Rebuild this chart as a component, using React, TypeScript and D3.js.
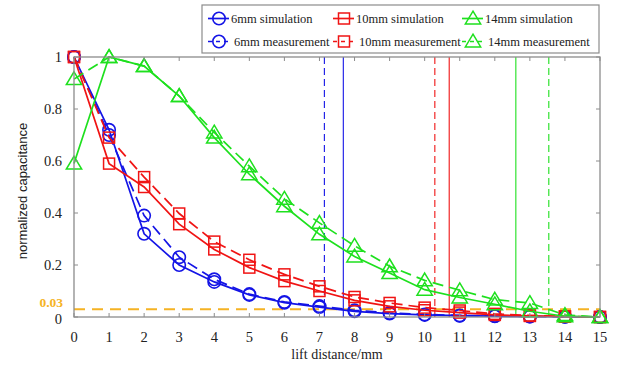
import * as d3 from 'd3';

// lift distance (mm)
const distances = d3.range(0, 16);

const sim6 = [1, 0.72, 0.32, 0.2, 0.135, 0.085, 0.055, 0.038, 0.022, 0.013, 0.008, 0.005, 0.003, 0.002, 0.001, 0];
const meas6 = [1, 0.7, 0.39, 0.23, 0.145, 0.088, 0.058, 0.042, 0.026, 0.016, 0.01, 0.006, 0.004, 0.002, 0.001, 0];
const sim10 = [1, 0.59, 0.5, 0.357, 0.26, 0.19, 0.138, 0.1, 0.064, 0.041, 0.026, 0.017, 0.008, 0.004, 0.002, 0];
const meas10 = [1, 0.69, 0.538, 0.398, 0.29, 0.22, 0.164, 0.118, 0.077, 0.054, 0.036, 0.025, 0.012, 0.006, 0.002, 0];
const sim14 = [0.59, 1, 0.965, 0.85, 0.69, 0.549, 0.426, 0.318, 0.233, 0.169, 0.105, 0.075, 0.049, 0.022, 0.003, 0];
const meas14 = [0.915, 1, 0.965, 0.85, 0.71, 0.58, 0.455, 0.362, 0.274, 0.195, 0.141, 0.103, 0.067, 0.054, 0.008, 0];

// distance where each curve drops below the 0.03 threshold
const cutoffs = [7.14, 7.68, 10.29, 10.7, 12.6, 13.54];
const cutoffDashed = [true, false, true, false, false, true];
const cutoffColors = ['#1414e6', '#1414e6', '#f01414', '#f01414', '#1ee01e', '#1ee01e'];

const threshold = 0.03;
const xTicks = d3.range(0, 16);
const yTicks = [0, 0.2, 0.4, 0.6, 0.8, 1];

type Marker = 'circle' | 'square' | 'triangle';

const series: { name: string; values: number[]; color: string; dashed: boolean; marker: Marker }[] = [
    { name: '6mm simulation', values: sim6, color: '#1414e6', dashed: false, marker: 'circle' },
    { name: '6mm measurement', values: meas6, color: '#1414e6', dashed: true, marker: 'circle' },
    { name: '10mm simulation', values: sim10, color: '#f01414', dashed: false, marker: 'square' },
    { name: '10mm measurement', values: meas10, color: '#f01414', dashed: true, marker: 'square' },
    { name: '14mm simulation', values: sim14, color: '#1ee01e', dashed: false, marker: 'triangle' },
    { name: '14mm measurement', values: meas14, color: '#1ee01e', dashed: true, marker: 'triangle' },
];

const W = 621;
const H = 369;
const serif = { fontFamily: "'Liberation Serif', 'DejaVu Serif', 'Times New Roman', serif" };
const sans = { fontFamily: "'Liberation Sans', Arial, sans-serif" };
const axisColor = '#8c8c8c';
const orange = '#f5b324';

function MarkerShape({ kind, x, y, color }: { kind: Marker; x: number; y: number; color: string }) {
    if (kind === 'circle') {
        return <circle cx={x} cy={y} r={6.2} fill="none" stroke={color} strokeWidth={1.6} />;
    }
    if (kind === 'square') {
        return <rect x={x - 5.5} y={y - 5.5} width={11} height={11} fill="none" stroke={color} strokeWidth={1.5} />;
    }
    const s = 7.3;
    const path = `M${x},${y - s} L${x + s * 1.05},${y + s * 0.75} L${x - s * 1.05},${y + s * 0.75} Z`;
    return <path d={path} fill="none" stroke={color} strokeWidth={1.5} />;
}

export default function App() {
    const margin = { left: 74, right: 21, top: 57, bottom: 52 };
    const x = d3.scaleLinear().domain([0, 15]).range([margin.left, W - margin.right]);
    const y = d3.scaleLinear().domain([0, 1]).range([H - margin.bottom, margin.top]);
    const [x0, x1] = x.range();
    const [yb, yt] = y.range();

    const line = d3.line<number>()
        .x((_, i) => x(distances[i]))
        .y(d => y(d));

    const legendCols = [208, 333, 462];
    const legendRows = [18.5, 41.5];

    return (
        <svg width={W} height={H} style={{ position: 'absolute', left: 0, top: 0, background: '#fff' }}>
            {/* threshold line */}
            <line x1={x0} x2={x1} y1={y(threshold)} y2={y(threshold)}
                stroke={orange} strokeWidth={2} strokeDasharray="11,7" />

            {/* cutoff lines */}
            {cutoffs.map((c, i) => (
                <line key={i} x1={x(c)} x2={x(c)} y1={yb} y2={yt}
                    stroke={cutoffColors[i]} strokeWidth={1.1}
                    strokeDasharray={cutoffDashed[i] ? '7,4' : undefined} />
            ))}

            {/* series */}
            {series.map(s => (
                <g key={s.name}>
                    <path d={line(s.values) || ''} fill="none" stroke={s.color} strokeWidth={1.7}
                        strokeDasharray={s.dashed ? '11,6' : undefined} />
                    {s.values.map((v, i) => (
                        <MarkerShape key={i} kind={s.marker} x={x(distances[i])} y={y(v)} color={s.color} />
                    ))}
                </g>
            ))}

            {/* frame */}
            <rect x={x0} y={yt} width={x1 - x0} height={yb - yt} fill="none" stroke={axisColor} strokeWidth={1.3} />
            {xTicks.map(t => (
                <g key={t}>
                    <line x1={x(t)} x2={x(t)} y1={yb} y2={yb - 4} stroke={axisColor} />
                    <line x1={x(t)} x2={x(t)} y1={yt} y2={yt + 4} stroke={axisColor} />
                    <text x={x(t)} y={yb + 25} textAnchor="middle" style={serif} fontSize={14.5} fill="#222">{t}</text>
                </g>
            ))}
            {yTicks.map(t => (
                <g key={t}>
                    <line x1={x0} x2={x0 + 4} y1={y(t)} y2={y(t)} stroke={axisColor} />
                    <line x1={x1} x2={x1 - 4} y1={y(t)} y2={y(t)} stroke={axisColor} />
                    <text x={x0 - 12} y={y(t) + (t === 0 ? 7 : 5)} textAnchor="end" style={serif} fontSize={14.5} fill="#222">{t}</text>
                </g>
            ))}
            <text x={x0 - 11} y={y(threshold) - 2} textAnchor="end" style={serif} fontSize={13.5}
                fontWeight="bold" fill={orange}>{threshold}</text>

            {/* axis titles */}
            <text x={x((0 + 15) / 2)} y={359} textAnchor="middle" style={serif} fontSize={14} fill="#222">lift distance/mm</text>
            <text transform={`translate(27,${(yb + yt) / 2 + 4}) rotate(-90)`} textAnchor="middle"
                style={sans} fontSize={13} fill="#222">normalized capacitance</text>

            {/* legend */}
            <rect x={202} y={5} width={397} height={48} fill="#fff" stroke={axisColor} strokeWidth={1.2} />
            {series.map((s, i) => {
                const cx = legendCols[Math.floor(i / 2)];
                const cy = legendRows[i % 2];
                return (
                    <g key={s.name}>
                        <line x1={cx} x2={cx + 21} y1={cy} y2={cy} stroke={s.color} strokeWidth={1.7}
                            strokeDasharray={s.dashed ? '4,4' : undefined} />
                        <MarkerShape kind={s.marker} x={cx + 11} y={cy} color={s.color} />
                        <text x={cx + (s.dashed ? 26 : 23)} y={cy + 4.5} style={serif} fontSize={12.5} fill="#222">{s.name}</text>
                    </g>
                );
            })}
        </svg>
    );
}
